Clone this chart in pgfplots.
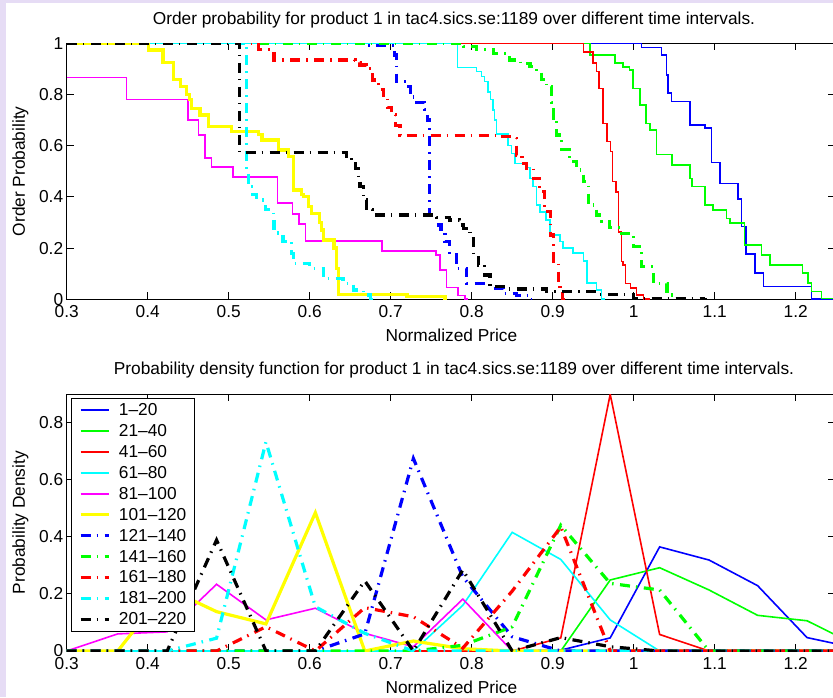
\documentclass[border=0pt]{standalone}
\usepackage{fontspec}
\setmainfont{Liberation Sans}
\usepackage{pgfplots}
\pgfplotsset{compat=1.18}
\definecolor{lav}{RGB}{230,220,245}
\definecolor{mb}{RGB}{0,0,255}
\definecolor{mg}{RGB}{0,255,0}
\definecolor{mr}{RGB}{255,0,0}
\definecolor{mc}{RGB}{0,255,255}
\definecolor{mm}{RGB}{255,0,255}
\definecolor{my}{RGB}{255,255,0}
\pgfplotsset{
  base/.style={
    scale only axis, width=767.8pt, xmin=0.3, xmax=1.2479,
    xtick={0.3,0.4,0.5,0.6,0.7,0.8,0.9,1,1.1,1.2},
    tick align=inside, major tick length=7pt,
    axis line style={black, line width=1.1pt},
    tick style={black, line width=1pt},
    /pgf/number format/assume math mode=true,
    tick label style={font=\fontsize{17.3}{20}\selectfont},
    xticklabel style={yshift=-3pt},
    label style={font=\fontsize{17.3}{20}\selectfont},
    title style={font=\fontsize{17.3}{20}\selectfont},
    xlabel style={at={(axis description cs:0.501,-0.164)}, anchor=base},
    ylabel style={at={(axis description cs:-0.0602,0.5)}, anchor=center},
  },
  sthin/.style={line width=1.6pt},
  sthick/.style={line width=3.2pt},
  dd/.style={line width=3.2pt, dash pattern=on 10pt off 6pt on 1.5pt off 6.5pt},
}
\begin{document}
\begin{tikzpicture}
\path[use as bounding box] (0pt,0pt) rectangle (833pt,697pt);
\fill[lav] (0pt,0pt) rectangle (833pt,697pt);
\fill[white] (6pt,0pt) rectangle (833pt,694pt);
% ---------------- top: order probability ----------------
\begin{axis}[base, at={(66.7pt,397.7pt)}, anchor=south west, height=256pt,
  ymin=0, ymax=1, ytick={0,0.2,0.4,0.6,0.8,1},
  title={Order probability for product 1 in tac4.sics.se:1189 over different time intervals.},
  title style={at={(axis description cs:0.5044,1.049)}, anchor=base},
  xlabel={Normalized Price}, ylabel={Order Probability}]
\addplot[mb, sthin, const plot] coordinates {(0.3,1) (1.0098,0.983) (1.0345,0.954) (1.0407,0.876) (1.0427,0.805) (1.0468,0.772) (1.0695,0.681) (1.088,0.670) (1.096,0.534) (1.1065,0.453) (1.129,0.391) (1.133,0.284) (1.139,0.176) (1.1497,0.102) (1.160,0.050) (1.2197,0) (1.26,0)};
\addplot[mg, sthin, const plot] coordinates {(0.3,1) (0.946,0.954) (0.977,0.922) (0.987,0.908) (0.995,0.895) (0.999,0.824) (1.0077,0.759) (1.015,0.687) (1.020,0.661) (1.028,0.566) (1.047,0.525) (1.0695,0.472) (1.072,0.44) (1.088,0.368) (1.098,0.349) (1.1147,0.316) (1.119,0.297) (1.137,0.212) (1.158,0.173) (1.168,0.134) (1.2085,0.102) (1.2155,0.0625) (1.2197,0.030) (1.232,0.003) (1.26,0.003)};
\addplot[mr, sthin, const plot] coordinates {(0.3,1) (0.938,0.967) (0.950,0.922) (0.954,0.89) (0.9575,0.824) (0.962,0.687) (0.967,0.616) (0.9715,0.577) (0.974,0.46) (0.978,0.42) (0.981,0.264) (0.985,0.147) (0.987,0.134) (0.990,0.062) (0.996,0.043) (1.0036,0.017) (1.012,0) (1.02,0)};
\addplot[mc, sthin, const plot] coordinates {(0.3,1) (0.7826,0.905) (0.806,0.89) (0.812,0.87) (0.816,0.85) (0.820,0.81) (0.823,0.78) (0.826,0.74) (0.828,0.70) (0.8308,0.645) (0.845,0.60) (0.849,0.57) (0.8535,0.531) (0.868,0.515) (0.872,0.472) (0.876,0.44) (0.880,0.368) (0.884,0.342) (0.892,0.31) (0.897,0.251) (0.909,0.225) (0.913,0.2) (0.925,0.18) (0.938,0.15) (0.942,0.0625) (0.954,0.036) (0.960,0) (0.965,0)};
\addplot[mm, sthin, const plot] coordinates {(0.3,0.866) (0.374,0.781) (0.450,0.700) (0.4626,0.642) (0.471,0.551) (0.479,0.516) (0.505,0.477) (0.560,0.375) (0.5786,0.333) (0.587,0.294) (0.595,0.228) (0.689,0.189) (0.756,0.173) (0.761,0.114) (0.769,0.046) (0.783,0.015) (0.792,0) (0.796,0)};
\addplot[my, sthick, const plot] coordinates {(0.3,1) (0.4008,0.974) (0.419,0.925) (0.432,0.86) (0.440,0.83) (0.448,0.80) (0.452,0.78) (0.454,0.746) (0.4645,0.72) (0.475,0.674) (0.503,0.655) (0.537,0.645) (0.541,0.622) (0.561,0.583) (0.5736,0.557) (0.580,0.427) (0.590,0.41) (0.5921,0.40) (0.5982,0.362) (0.602,0.336) (0.612,0.30) (0.6148,0.271) (0.6167,0.232) (0.630,0.20) (0.6332,0.12) (0.6353,0.020) (0.720,0.01) (0.767,0) (0.77,0)};
\addplot[mb, dd, const plot] coordinates {(0.3,1) (0.67,0.99) (0.705,0.954) (0.707,0.85) (0.722,0.83) (0.724,0.79) (0.732,0.77) (0.742,0.74) (0.745,0.70) (0.748,0.33) (0.757,0.29) (0.762,0.26) (0.767,0.225) (0.773,0.173) (0.781,0.121) (0.794,0.062) (0.822,0.043) (0.839,0.023) (0.855,0.016) (0.87,0) (0.875,0)};
\addplot[mg, dd, const plot] coordinates {(0.3,1) (0.79,0.987) (0.806,0.975) (0.827,0.96) (0.847,0.935) (0.86,0.92) (0.872,0.908) (0.88,0.89) (0.886,0.86) (0.892,0.83) (0.899,0.77) (0.901,0.707) (0.905,0.642) (0.911,0.584) (0.921,0.537) (0.9295,0.505) (0.938,0.46) (0.944,0.368) (0.954,0.329) (0.9604,0.303) (0.970,0.28) (0.983,0.257) (1.0,0.206) (1.01,0.127) (1.024,0.0625) (1.041,0.017) (1.049,0.004) (1.06,0) (1.065,0)};
\addplot[mr, dd, const plot] coordinates {(0.3,1) (0.537,0.975) (0.556,0.935) (0.656,0.925) (0.662,0.915) (0.670,0.9) (0.678,0.857) (0.685,0.82) (0.691,0.79) (0.696,0.75) (0.701,0.72) (0.706,0.68) (0.7115,0.64) (0.835,0.635) (0.847,0.629) (0.855,0.563) (0.862,0.53) (0.868,0.511) (0.876,0.472) (0.884,0.42) (0.890,0.342) (0.897,0.251) (0.901,0.147) (0.907,0.069) (0.909,0.023) (0.912,0) (0.915,0)};
\addplot[mc, dd, const plot] coordinates {(0.3,1) (0.522,0.49) (0.524,0.44) (0.530,0.41) (0.5346,0.388) (0.545,0.35) (0.555,0.323) (0.556,0.259) (0.567,0.227) (0.578,0.18) (0.580,0.14) (0.600,0.121) (0.617,0.082) (0.641,0.0625) (0.654,0.036) (0.666,0.017) (0.675,0) (0.68,0)};
\addplot[black, dd, const plot] coordinates {(0.3,1) (0.513,0.574) (0.6457,0.56) (0.652,0.544) (0.657,0.51) (0.660,0.47) (0.662,0.44) (0.666,0.388) (0.670,0.35) (0.678,0.329) (0.757,0.32) (0.773,0.31) (0.785,0.29) (0.7896,0.277) (0.798,0.238) (0.802,0.173) (0.808,0.134) (0.816,0.095) (0.8225,0.049) (0.843,0.04) (0.892,0.03) (0.954,0.02) (1.0,0.004) (1.086,0) (1.09,0)};
\end{axis}
% ---------------- bottom: probability density ----------------
\begin{axis}[base, at={(66.7pt,46pt)}, anchor=south west, height=256.7pt,
  ymin=0, ymax=0.9, ytick={0,0.2,0.4,0.6,0.8},
  title={Probability density function for product 1 in tac4.sics.se:1189 over different time intervals.},
  title style={at={(axis description cs:0.5044,1.053)}, anchor=base},
  xlabel={Normalized Price}, ylabel={Probability Density},
  legend cell align=left,
  legend image code/.code={\draw[#1] (0pt,0pt) -- (28pt,0pt);},
  legend style={at={(axis description cs:0.005,0.9875)}, anchor=north west,
    draw=black, line width=1pt, fill=white, inner xsep=8pt, inner ysep=5.4pt,
    font=\fontsize{17.3}{20}\selectfont, row sep=7.35pt, column sep=8.7pt,
    nodes={inner sep=0pt}}]
\addplot[mb, sthin] coordinates {(0.300,0) (0.363,0) (0.424,0) (0.485,0) (0.546,0) (0.607,0) (0.668,0) (0.728,0) (0.789,0) (0.850,0) (0.910,0.003) (0.971,0.046) (1.032,0.365) (1.093,0.319) (1.153,0.229) (1.214,0.047) (1.275,0.01)};
\addlegendentry{1--20}
\addplot[mg, sthin] coordinates {(0.300,0) (0.363,0) (0.424,0) (0.485,0) (0.546,0) (0.607,0) (0.668,0) (0.728,0) (0.789,0) (0.850,0) (0.910,0) (0.971,0.249) (1.032,0.292) (1.093,0.214) (1.153,0.125) (1.214,0.106) (1.275,0.02)};
\addlegendentry{21--40}
\addplot[mr, sthin] coordinates {(0.300,0) (0.363,0) (0.424,0) (0.485,0) (0.546,0) (0.607,0) (0.668,0) (0.728,0) (0.789,0) (0.850,0) (0.910,0.046) (0.971,0.9) (1.032,0.058) (1.093,0) (1.153,0) (1.214,0) (1.275,0)};
\addlegendentry{41--60}
\addplot[mc, sthin] coordinates {(0.300,0) (0.363,0) (0.424,0) (0.485,0) (0.546,0) (0.607,0) (0.668,0) (0.728,0) (0.789,0.16) (0.850,0.416) (0.910,0.321) (0.971,0.109) (1.032,0) (1.093,0) (1.153,0) (1.214,0) (1.275,0)};
\addlegendentry{61--80}
\addplot[mm, sthin] coordinates {(0.300,0) (0.363,0.06) (0.424,0.067) (0.485,0.234) (0.546,0.109) (0.607,0.150) (0.668,0.062) (0.728,0.015) (0.789,0.182) (0.850,0) (0.910,0) (0.971,0) (1.032,0) (1.093,0) (1.153,0) (1.214,0) (1.275,0)};
\addlegendentry{81--100}
\addplot[my, sthick] coordinates {(0.300,0) (0.363,0) (0.424,0.22) (0.485,0.138) (0.546,0.095) (0.607,0.485) (0.668,0) (0.728,0.035) (0.789,0.008) (0.850,0) (0.910,0) (0.971,0) (1.032,0) (1.093,0) (1.153,0) (1.214,0) (1.275,0)};
\addlegendentry{101--120}
\addplot[mb, dd] coordinates {(0.300,0) (0.363,0) (0.424,0) (0.485,0) (0.546,0) (0.607,0) (0.668,0.06) (0.728,0.675) (0.789,0.26) (0.850,0.05) (0.910,0) (0.971,0) (1.032,0) (1.093,0) (1.153,0) (1.214,0) (1.275,0)};
\addlegendentry{121--140}
\addplot[mg, dd] coordinates {(0.300,0) (0.363,0) (0.424,0) (0.485,0) (0.546,0) (0.607,0) (0.668,0) (0.728,0) (0.789,0.02) (0.850,0.085) (0.910,0.441) (0.971,0.237) (1.032,0.214) (1.093,0) (1.153,0) (1.214,0) (1.275,0)};
\addlegendentry{141--160}
\addplot[mr, dd] coordinates {(0.300,0) (0.363,0) (0.424,0) (0.485,0) (0.546,0.085) (0.607,0) (0.668,0.152) (0.728,0.12) (0.789,0.01) (0.850,0.21) (0.910,0.435) (0.971,0) (1.032,0) (1.093,0) (1.153,0) (1.214,0) (1.275,0)};
\addlegendentry{161--180}
\addplot[mc, dd] coordinates {(0.300,0) (0.363,0) (0.424,0) (0.485,0.045) (0.546,0.733) (0.607,0.155) (0.668,0.062) (0.728,0) (0.789,0) (0.850,0) (0.910,0) (0.971,0) (1.032,0) (1.093,0) (1.153,0) (1.214,0) (1.275,0)};
\addlegendentry{181--200}
\addplot[black, dd] coordinates {(0.300,0) (0.363,0) (0.424,0) (0.485,0.389) (0.546,0) (0.607,0) (0.668,0.246) (0.728,0) (0.789,0.284) (0.850,0) (0.910,0.047) (0.971,0.015) (1.032,0) (1.093,0) (1.153,0) (1.214,0) (1.275,0)};
\addlegendentry{201--220}
\end{axis}
\end{tikzpicture}
\end{document}
